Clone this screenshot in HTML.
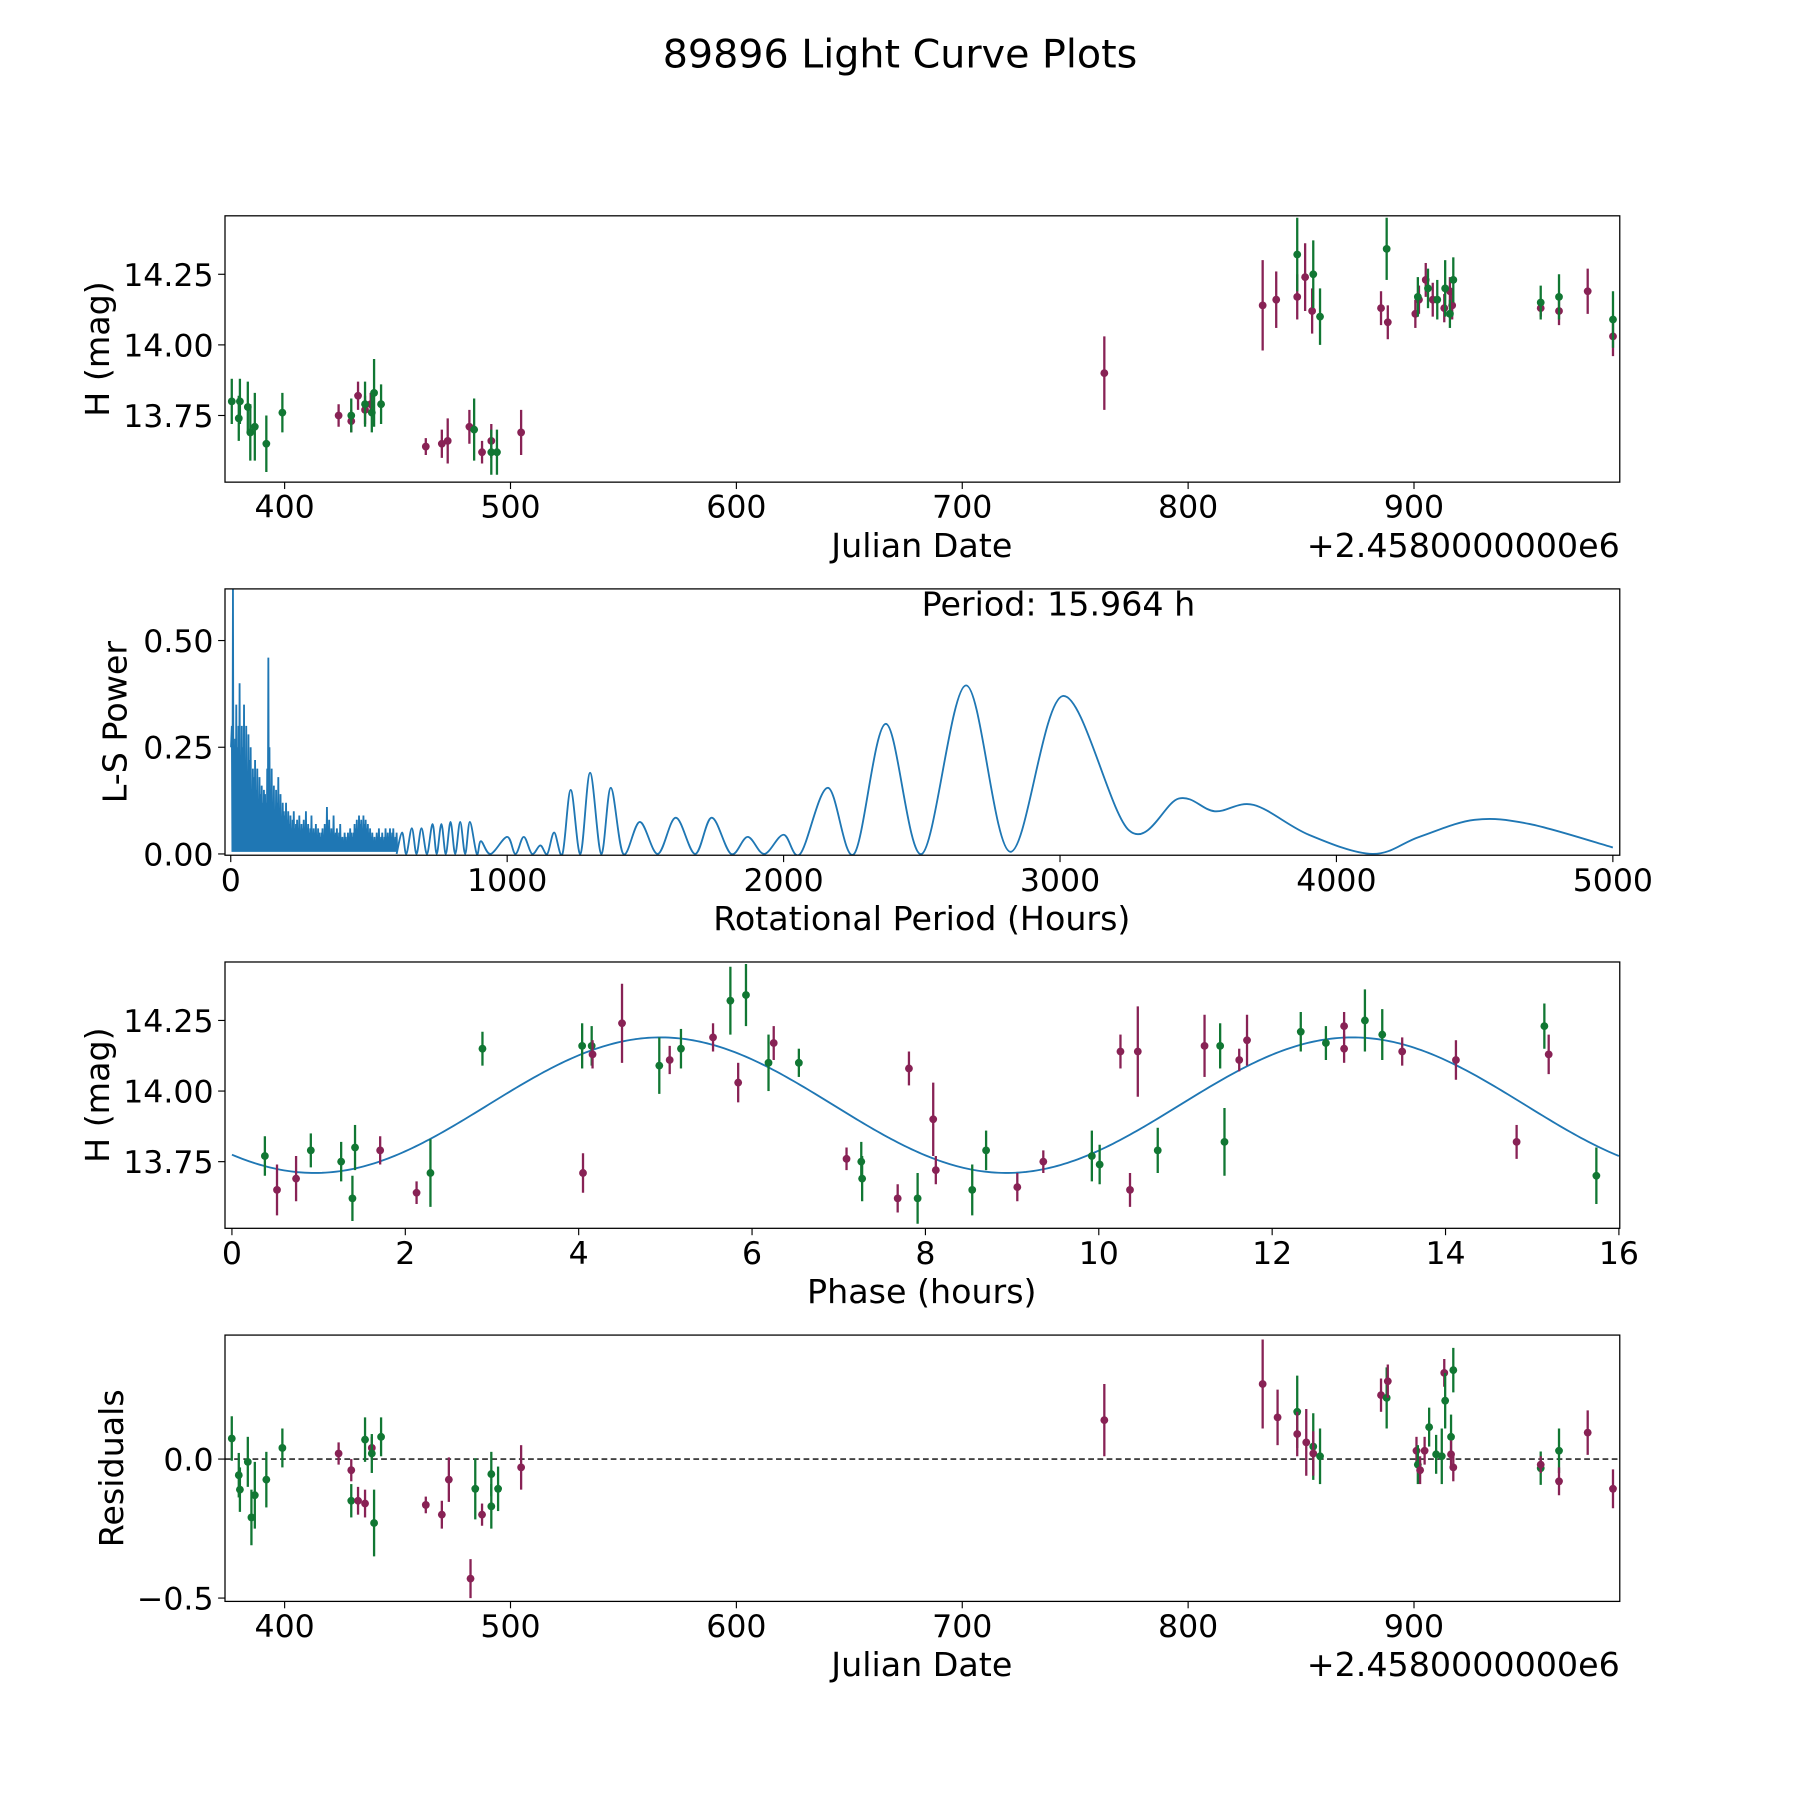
<!DOCTYPE html>
<html><head><meta charset="utf-8"><style>
html,body{margin:0;padding:0;background:#fff;}
svg{display:block;font-family:"DejaVu Sans","Liberation Sans",sans-serif;}
</style></head><body>
<svg id="fig" width="1800" height="1800" viewBox="0 0 1568 1568" xmlns="http://www.w3.org/2000/svg">
<rect width="1568" height="1568" fill="#fff"/>
<text x="784" y="59" font-size="34.5" text-anchor="middle">89896 Light Curve Plots</text>
</svg>
<script>
// ---- Panel 1 data: observations (date offset, H, err)
const magDates=[423.9,429.5,432.5,435.6,438.1,462.5,469.6,472.2,481.8,487.4,491.5,504.7,762.9,833,839,848.3,851.8,854.9,885.4,888.4,900.6,902.2,905.2,908.3,913.4,915.9,916.9,956.1,964.2,976.9,988.1];
const magH=[13.75,13.73,13.82,13.77,13.79,13.64,13.65,13.66,13.71,13.62,13.66,13.69,13.90,14.14,14.16,14.17,14.24,14.12,14.13,14.08,14.11,14.16,14.23,14.16,14.13,14.19,14.14,14.13,14.12,14.19,14.03];
const magErr=[0.04,0.04,0.05,0.05,0.04,0.03,0.05,0.08,0.06,0.04,0.06,0.08,0.13,0.16,0.1,0.08,0.12,0.08,0.06,0.06,0.05,0.05,0.06,0.06,0.05,0.05,0.05,0.03,0.05,0.08,0.07];
const grnDates=[376.6,379.7,380.2,383.7,384.8,386.8,391.9,399,429.5,435.6,438.6,439.6,442.7,483.9,491.5,494,848.3,855.4,858.4,887.9,901.7,906.2,910.3,913.8,915.9,917.4,956.1,964.2,988.1];
const grnH=[13.80,13.74,13.80,13.78,13.69,13.71,13.65,13.76,13.75,13.79,13.76,13.83,13.79,13.70,13.62,13.62,14.32,14.25,14.10,14.34,14.17,14.20,14.16,14.20,14.11,14.23,14.15,14.17,14.09];
const grnErr=[0.08,0.08,0.08,0.09,0.1,0.12,0.1,0.07,0.06,0.08,0.07,0.12,0.07,0.11,0.08,0.08,0.13,0.12,0.1,0.11,0.07,0.07,0.07,0.1,0.05,0.08,0.06,0.08,0.1];
// ---- Panel 2: periodogram
const noiseStart=4, noiseStep=4;
const noisePower=[0.3,0.62,0.2,0.27,0.35,0.25,0.3,0.4,0.22,0.3,0.25,0.35,0.2,0.3,0.18,0.28,0.22,0.25,0.15,0.2,0.18,0.22,0.15,0.2,0.12,0.18,0.14,0.16,0.12,0.15,0.14,0.12,0.2,0.46,0.25,0.15,0.2,0.12,0.16,0.1,0.15,0.12,0.18,0.1,0.14,0.08,0.12,0.1,0.09,0.12,0.08,0.1,0.07,0.09,0.06,0.08,0.1,0.06,0.07,0.08,0.06,0.09,0.05,0.07,0.06,0.08,0.05,0.1,0.06,0.07,0.05,0.06,0.09,0.04,0.06,0.05,0.07,0.04,0.06,0.05,0.04,0.05,0.06,0.04,0.07,0.05,0.11,0.06,0.08,0.04,0.06,0.05,0.09,0.04,0.05,0.06,0.04,0.05,0.07,0.03,0.04,0.03,0.05,0.04,0.03,0.05,0.04,0.06,0.05,0.04,0.05,0.07,0.06,0.08,0.05,0.09,0.07,0.08,0.06,0.09,0.07,0.08,0.06,0.07,0.05,0.06,0.04,0.05,0.03,0.04,0.03,0.05,0.04,0.06,0.03,0.04,0.05,0.03,0.04,0.06,0.03,0.05,0.04,0.06,0.04,0.05,0.06,0.03,0.04,0.05];
const smoothPeriods=[600,620,635,655,672,690,710,730,745,762,778,795,812,830,848,865,890,905,940,1000,1030,1060,1090,1120,1145,1170,1200,1230,1265,1300,1340,1375,1420,1480,1545,1610,1680,1740,1810,1870,1930,2000,2060,2160,2255,2370,2500,2660,2820,3010,3250,3430,3560,3700,3900,4130,4300,4500,4700,5000];
const smoothPower=[0.0,0.05,0,0.06,0,0.06,0,0.07,0,0.07,0,0.075,0,0.075,0,0.075,0,0.03,0,0.04,0,0.04,0,0.02,0,0.05,0,0.15,0,0.19,0,0.155,0,0.075,0,0.085,0,0.085,0,0.04,0,0.045,0,0.155,0,0.305,0,0.395,0.005,0.37,0.055,0.13,0.1,0.115,0.045,0.0,0.04,0.08,0.07,0.015];
// ---- Panel 3: phased
const phaseVals=[0.38,0.52,0.74,0.91,1.26,1.39,1.42,1.71,2.13,2.29,2.89,4.05,4.04,4.15,4.16,4.50,4.93,5.05,5.18,5.55,5.75,5.84,5.93,6.19,6.25,6.54,7.09,7.26,7.27,7.68,7.81,7.91,8.09,8.12,8.54,8.70,9.06,9.36,9.92,10.01,10.36,10.25,10.45,10.68,11.22,11.40,11.45,11.62,11.71,12.33,12.62,12.83,12.83,13.07,13.27,13.50,14.12,14.82,15.14,15.19,15.74];
const phaseH=[13.77,13.65,13.69,13.79,13.75,13.62,13.80,13.79,13.64,13.71,14.15,13.71,14.16,14.16,14.13,14.24,14.09,14.11,14.15,14.19,14.32,14.03,14.34,14.10,14.17,14.10,13.76,13.75,13.69,13.62,14.08,13.62,13.90,13.72,13.65,13.79,13.66,13.75,13.77,13.74,13.65,14.14,14.14,13.79,14.16,14.16,13.82,14.11,14.18,14.21,14.17,14.15,14.23,14.25,14.20,14.14,14.11,13.82,14.23,14.13,13.70];
const phaseColor=['g','m','m','g','g','g','g','m','m','g','g','m','g','g','m','m','g','m','g','m','g','m','g','g','m','g','m','g','g','m','m','g','m','m','g','g','m','m','g','g','m','m','m','g','m','g','g','m','m','g','g','m','m','g','g','m','m','m','g','m','g'];
const phaseErr=[0.07,0.09,0.08,0.06,0.07,0.08,0.08,0.05,0.04,0.12,0.06,0.07,0.08,0.07,0.05,0.14,0.1,0.05,0.07,0.05,0.12,0.07,0.11,0.1,0.06,0.05,0.04,0.07,0.08,0.05,0.06,0.09,0.13,0.05,0.09,0.07,0.05,0.04,0.09,0.07,0.06,0.06,0.16,0.08,0.11,0.08,0.12,0.04,0.09,0.07,0.06,0.05,0.05,0.11,0.09,0.05,0.07,0.06,0.08,0.07,0.1];
const fitParams=[13.95,0.24,2.95,7.982]; // mean, amplitude, phase shift, half-period
// ---- Panel 4: residuals
const resDates=[376.6,379.7,380.2,383.7,385.3,386.8,391.9,399,423.9,429.5,429.5,432.5,435.6,435.6,438.6,438.6,439.6,442.7,462.5,469.6,472.7,482.3,484.4,487.4,491.5,491.5,494.5,504.7,762.9,833,839.6,848.3,848.3,852.3,855.4,855.4,858.4,885.4,887.9,888.4,901.1,901.7,902.7,904.7,906.7,909.8,912.3,913.4,913.8,916.4,916.4,917.4,917.4,956.1,956.1,964.2,964.2,976.9,988.1];
const resVals=[0.074,-0.058,-0.11,-0.01,-0.21,-0.13,-0.074,0.04,0.02,-0.04,-0.15,-0.15,-0.16,0.07,0.04,0.02,-0.23,0.08,-0.165,-0.2,-0.074,-0.43,-0.107,-0.2,-0.054,-0.17,-0.107,-0.03,0.14,0.27,0.15,0.17,0.09,0.06,0.045,0.02,0.01,0.23,0.22,0.28,0.03,-0.02,-0.04,0.03,0.115,0.017,0.01,0.31,0.21,0.08,0.017,-0.03,0.32,-0.033,-0.02,0.03,-0.08,0.095,-0.107];
const resColor=['g','g','g','g','g','g','g','g','m','m','g','m','m','g','m','g','g','g','m','m','m','m','g','m','g','g','g','m','m','m','m','g','m','m','g','m','g','m','g','m','m','g','m','m','g','g','g','m','g','g','m','m','g','g','m','g','m','m','m'];
const resErr=[0.08,0.08,0.08,0.09,0.1,0.12,0.1,0.07,0.04,0.04,0.06,0.05,0.05,0.08,0.04,0.07,0.12,0.07,0.03,0.05,0.08,0.07,0.11,0.04,0.08,0.08,0.08,0.08,0.13,0.16,0.1,0.13,0.08,0.12,0.12,0.08,0.1,0.06,0.11,0.06,0.05,0.07,0.05,0.05,0.07,0.07,0.1,0.05,0.1,0.08,0.05,0.05,0.08,0.06,0.03,0.08,0.05,0.08,0.07];

const NS='http://www.w3.org/2000/svg';
const svg=document.getElementById('fig');
const MAG='#882255', GRN='#117733', BLUE='#1f77b4';
const TICKF=27.5, LABF=29;
function mk(tag,attrs,parent){const e=document.createElementNS(NS,tag);for(const k in attrs)e.setAttribute(k,attrs[k]);(parent||svg).appendChild(e);return e;}
function lin(d0,d1,r0,r1){return v=>r0+(v-d0)/(d1-d0)*(r1-r0);}
const L=196,R=1411;

function makeAxes(name,top,bot,xd,yd,xticks,xlabels,yticks,ylabels,xlabel,ylabel,ylabX){
  const g=mk('g',{});
  
  
  const X=lin(xd[0],xd[1],L,R), Y=lin(yd[0],yd[1],bot,top);
  const clip=mk('clipPath',{id:name+'-clip'},g);
  mk('rect',{x:L,y:top,width:R-L,height:bot-top},clip);
  const plot=mk('g',{'clip-path':'url(#'+name+'-clip)'},g);
  
  
  xticks.forEach((t,i)=>{const x=X(t);
    const tk=mk('line',{x1:x,x2:x,y1:bot,y2:bot+6,stroke:'#000','stroke-width':1},g);
    
    
    const tl=mk('text',{x:x,y:bot+31,'font-size':TICKF,'text-anchor':'middle'},g);tl.textContent=xlabels[i];
    
    });
  yticks.forEach((t,i)=>{const y=Y(t);
    const tk=mk('line',{x1:L-6,x2:L,y1:y,y2:y,stroke:'#000','stroke-width':1},g);
    
    
    const tl=mk('text',{x:L-10,y:y+10,'font-size':TICKF,'text-anchor':'end'},g);tl.textContent=ylabels[i];
    
    });
  const xl=mk('text',{x:803,y:bot+65,'font-size':LABF,'text-anchor':'middle'},g);xl.textContent=xlabel;
  
  
  const cy=(top+bot)/2;
  const yl=mk('text',{x:ylabX,y:cy,'font-size':LABF,'text-anchor':'middle',transform:'rotate(-90 '+ylabX+' '+cy+')'},g);yl.textContent=ylabel;
  
  
  const fr=mk('rect',{x:L,y:top,width:R-L,height:bot-top,fill:'none',stroke:'#000','stroke-width':1.1},g);
  
  
  return {X,Y,plot,g};
}
function errPoint(ax,x,y,e,col){
  const l=mk('line',{x1:ax.X(x),x2:ax.X(x),y1:ax.Y(y-e),y2:ax.Y(y+e),stroke:col,'stroke-width':2},ax.plot);
  
  
  const c=mk('circle',{cx:ax.X(x),cy:ax.Y(y),r:3.4,fill:col},ax.plot);
  
  
}
function offsetText(g,y){const t=mk('text',{x:R,y:y,'font-size':29,'text-anchor':'end'},g);t.textContent='+2.4580000000e6';
  
  }

// Panel 1
const dateDom=[373.6,991.1];
const a1=makeAxes('lightcurve-axes',188,420,dateDom,[13.514,14.457],[400,500,600,700,800,900],['400','500','600','700','800','900'],[13.75,14.0,14.25],['13.75','14.00','14.25'],'Julian Date','H (mag)',95);
offsetText(a1.g,485);
magDates.forEach((d,i)=>errPoint(a1,d,magH[i],magErr[i],MAG));
grnDates.forEach((d,i)=>errPoint(a1,d,grnH[i],grnErr[i],GRN));

// Panel 2
const a2=makeAxes('periodogram-axes',513,745,[-20.8,5025],[-0.003,0.621],[0,1000,2000,3000,4000,5000],['0','1000','2000','3000','4000','5000'],[0,0.25,0.5],['0.00','0.25','0.50'],'Rotational Period (Hours)','L-S Power',110);
let d='M'+a2.X(1)+','+a2.Y(0.25);
noisePower.forEach((p,i)=>{const per=noiseStart+i*noiseStep;
  d+=' L'+a2.X(per).toFixed(2)+','+a2.Y(p).toFixed(2)+' L'+a2.X(per+2).toFixed(2)+','+a2.Y(0.005).toFixed(2);});
const noisePath=mk('path',{d:d,fill:'none',stroke:BLUE,'stroke-width':1.6},a2.plot);


const pts=smoothPeriods.map((p,i)=>[a2.X(p),a2.Y(smoothPower[i])]);
let s='M'+pts[0][0]+','+pts[0][1];
for(let i=0;i<pts.length-1;i++){const p0=pts[Math.max(0,i-1)],p1=pts[i],p2=pts[i+1],p3=pts[Math.min(pts.length-1,i+2)];
  s+=' C'+(p1[0]+(p2[0]-p0[0])/6).toFixed(2)+','+(p1[1]+(p2[1]-p0[1])/6).toFixed(2)+' '+(p2[0]-(p3[0]-p1[0])/6).toFixed(2)+','+(p2[1]-(p3[1]-p1[1])/6).toFixed(2)+' '+p2[0].toFixed(2)+','+p2[1].toFixed(2);}
const sp=mk('path',{d:s,fill:'none',stroke:BLUE,'stroke-width':1.6},a2.plot);


const pt=mk('text',{x:922,y:536,'font-size':LABF,'text-anchor':'middle'},a2.g);pt.textContent='Period: 15.964 h';



// Panel 3
const a3=makeAxes('phased-axes',838,1070,[-0.08,16.01],[13.514,14.457],[0,2,4,6,8,10,12,14,16],['0','2','4','6','8','10','12','14','16'],[13.75,14.0,14.25],['13.75','14.00','14.25'],'Phase (hours)','H (mag)',95);
let f='';
for(let k=0;k<=400;k++){const ph=k*16/400;const v=fitParams[0]+fitParams[1]*Math.sin(2*Math.PI*(ph-fitParams[2])/fitParams[3]);
  f+=(k?' L':'M')+a3.X(ph).toFixed(2)+','+a3.Y(v).toFixed(2);}
const fit=mk('path',{d:f,fill:'none',stroke:BLUE,'stroke-width':1.6},a3.plot);


phaseVals.forEach((p,i)=>errPoint(a3,p,phaseH[i],phaseErr[i],phaseColor[i]==='m'?MAG:GRN));

// Panel 4
const a4=makeAxes('residuals-axes',1163,1395,dateDom,[-0.512,0.446],[400,500,600,700,800,900],['400','500','600','700','800','900'],[-0.5,0],['\u22120.5','0.0'],'Julian Date','Residuals',107);
offsetText(a4.g,1460);
const zl=mk('line',{x1:L,x2:R,y1:a4.Y(0),y2:a4.Y(0),stroke:'#000','stroke-width':1.3,'stroke-dasharray':'5,3'},a4.plot);


resDates.forEach((dd,i)=>errPoint(a4,dd,resVals[i],resErr[i],resColor[i]==='m'?MAG:GRN));
</script>
</body></html>
